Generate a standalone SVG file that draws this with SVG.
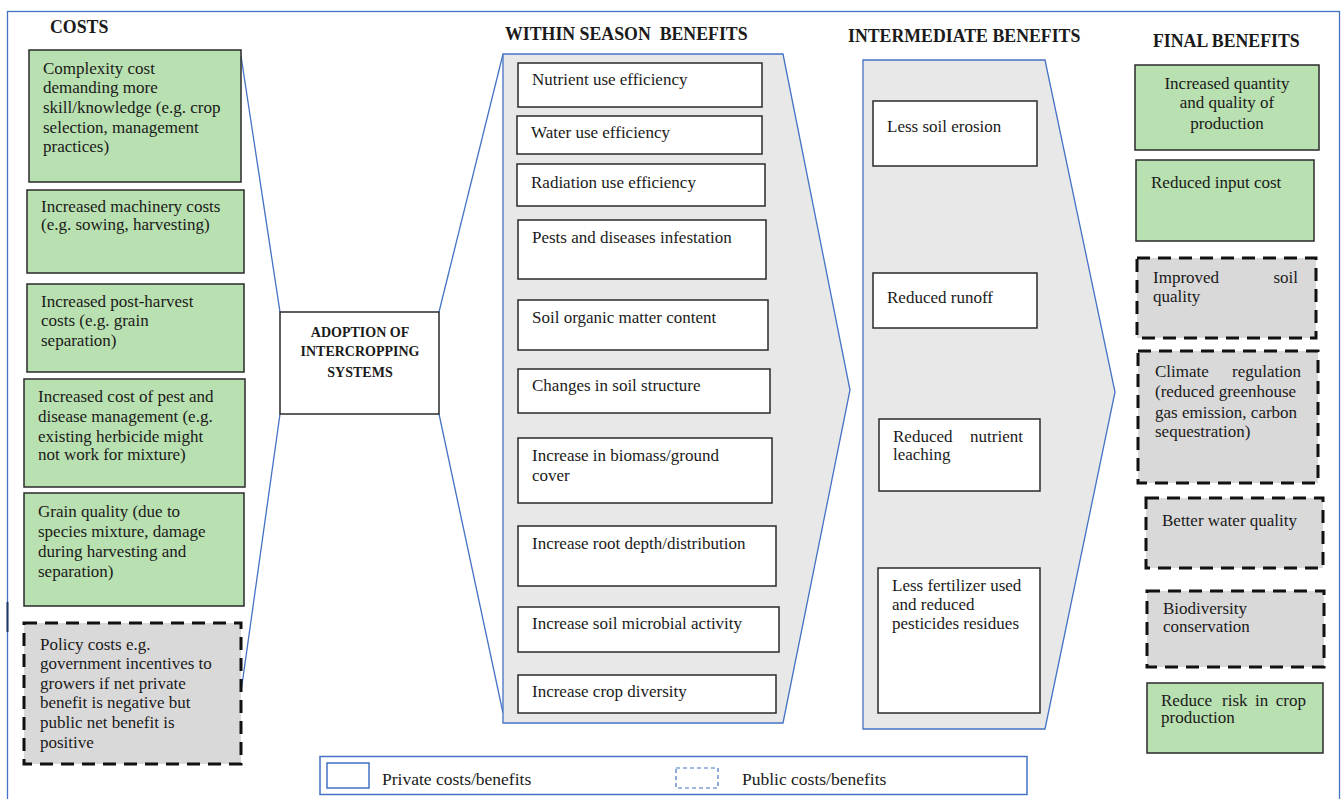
<svg xmlns="http://www.w3.org/2000/svg" width="1342" height="799" viewBox="0 0 1342 799">
<style>
text{font-family:"Liberation Serif","Times New Roman",serif;fill:#1a1a1a;font-size:17px}
.h{font-weight:bold;font-size:17.8px}
.ad{font-weight:bold;font-size:14px}
.lg{font-size:17.5px}
.g{fill:#b9e0b0;stroke:#2a2a2a;stroke-width:1.5}
.w{fill:#ffffff;stroke:#2a2a2a;stroke-width:1.5}
.d{fill:#d9d9d9;stroke:#111;stroke-width:3;stroke-dasharray:13 8}
.tz{fill:#e8e8e8;stroke:#4472c4;stroke-width:1.3}
.bl{fill:none;stroke:#4472c4;stroke-width:1.3}
</style>
<rect x="7.5" y="11.5" width="1332" height="800" fill="#fff" stroke="#4472c4" stroke-width="1.3"/>
<line x1="7.5" y1="602" x2="7.5" y2="632" stroke="#1f3864" stroke-width="2"/>

<text class="h" x="50" y="33">COSTS</text>
<text class="h" x="505" y="40" xml:space="preserve">WITHIN SEASON  BENEFITS</text>
<text class="h" x="848" y="42">INTERMEDIATE BENEFITS</text>
<text class="h" x="1153" y="47">FINAL BENEFITS</text>

<g id="connectors">
<line class="bl" x1="241" y1="56" x2="280" y2="312"/>
<line class="bl" x1="280" y1="414" x2="241" y2="692"/>
<line class="bl" x1="439" y1="312" x2="503" y2="54"/>
<line class="bl" x1="439" y1="414" x2="503" y2="713"/>
</g>

<g id="within-season-panel">
<polygon class="tz" points="503,54 783,54 850,390 783,723 503,723"/>
</g>
<g id="intermediate-panel">
<polygon class="tz" points="863,60 1045,60 1115,392 1045,729 863,729"/>
</g>

<g id="cost1"><rect class="g" x="29" y="50" width="212" height="132"/>
<text x="43" y="74">Complexity cost</text><text x="43" y="93">demanding more</text><text x="43" y="113">skill/knowledge (e.g. crop</text><text x="43" y="133">selection, management</text><text x="43" y="152">practices)</text></g>
<g id="cost2"><rect class="g" x="27" y="190" width="217" height="83"/>
<text x="41" y="212">Increased machinery costs</text><text x="41" y="230">(e.g. sowing, harvesting)</text></g>
<g id="cost3"><rect class="g" x="27" y="284" width="217" height="88"/>
<text x="41" y="307">Increased post-harvest</text><text x="41" y="326">costs (e.g. grain</text><text x="41" y="346">separation)</text></g>
<g id="cost4"><rect class="g" x="24" y="379" width="221" height="108"/>
<text x="38" y="402">Increased cost of pest and</text><text x="38" y="422">disease management (e.g.</text><text x="38" y="442">existing herbicide might</text><text x="38" y="460">not work for mixture)</text></g>
<g id="cost5"><rect class="g" x="24" y="493" width="220" height="113"/>
<text x="38" y="517">Grain quality (due to</text><text x="38" y="537">species mixture, damage</text><text x="38" y="557">during harvesting and</text><text x="38" y="577">separation)</text></g>
<g id="cost6"><rect class="d" x="24" y="623" width="217" height="141"/>
<text x="40" y="650">Policy costs e.g.</text><text x="40" y="669">government incentives to</text><text x="40" y="689">growers if net private</text><text x="40" y="708">benefit is negative but</text><text x="40" y="728">public net benefit is</text><text x="40" y="748">positive</text></g>

<g id="adoption"><rect class="w" x="280" y="312" width="159" height="102"/>
<text class="ad" x="360" y="337" text-anchor="middle">ADOPTION OF</text>
<text class="ad" x="360" y="356" text-anchor="middle">INTERCROPPING</text>
<text class="ad" x="360" y="377" text-anchor="middle">SYSTEMS</text></g>

<g id="ws1"><rect class="w" x="518" y="63" width="244" height="44"/><text x="532" y="85">Nutrient use efficiency</text></g>
<g id="ws2"><rect class="w" x="517" y="116" width="245" height="38"/><text x="531" y="138">Water use efficiency</text></g>
<g id="ws3"><rect class="w" x="517" y="164" width="248" height="42"/><text x="531" y="188">Radiation use efficiency</text></g>
<g id="ws4"><rect class="w" x="518" y="220" width="248" height="59"/><text x="532" y="243">Pests and diseases infestation</text></g>
<g id="ws5"><rect class="w" x="518" y="300" width="250" height="50"/><text x="532" y="323">Soil organic matter content</text></g>
<g id="ws6"><rect class="w" x="518" y="369" width="252" height="44"/><text x="532" y="391">Changes in soil structure</text></g>
<g id="ws7"><rect class="w" x="518" y="438" width="254" height="65"/><text x="532" y="461">Increase in biomass/ground</text><text x="532" y="481">cover</text></g>
<g id="ws8"><rect class="w" x="518" y="526" width="258" height="60"/><text x="532" y="549">Increase root depth/distribution</text></g>
<g id="ws9"><rect class="w" x="518" y="607" width="261" height="45"/><text x="532" y="629">Increase soil microbial activity</text></g>
<g id="ws10"><rect class="w" x="518" y="675" width="258" height="38"/><text x="532" y="697">Increase crop diversity</text></g>

<g id="ib1"><rect class="w" x="873" y="101" width="164" height="65"/><text x="887" y="132">Less soil erosion</text></g>
<g id="ib2"><rect class="w" x="873" y="273" width="164" height="55"/><text x="887" y="303">Reduced runoff</text></g>
<g id="ib3"><rect class="w" x="879" y="419" width="161" height="72"/><text x="893" y="442">Reduced</text><text x="1023" y="442" text-anchor="end">nutrient</text><text x="893" y="460">leaching</text></g>
<g id="ib4"><rect class="w" x="878" y="568" width="162" height="145"/><text x="892" y="591">Less fertilizer used</text><text x="892" y="610">and reduced</text><text x="892" y="629">pesticides residues</text></g>

<g id="fb1"><rect class="g" x="1135" y="65" width="184" height="85"/>
<text x="1227" y="89" text-anchor="middle">Increased quantity</text><text x="1227" y="108" text-anchor="middle">and quality of</text><text x="1227" y="129" text-anchor="middle">production</text></g>
<g id="fb2"><rect class="g" x="1136" y="160" width="178" height="81"/><text x="1151" y="188">Reduced input cost</text></g>
<g id="fb3"><rect class="d" x="1137" y="258" width="179" height="80"/><text x="1153" y="283">Improved</text><text x="1298" y="283" text-anchor="end">soil</text><text x="1153" y="302">quality</text></g>
<g id="fb4"><rect class="d" x="1138" y="351" width="180" height="132"/>
<text x="1155" y="377">Climate</text><text x="1301" y="377" text-anchor="end">regulation</text><text x="1155" y="397">(reduced greenhouse</text><text x="1155" y="418">gas emission, carbon</text><text x="1155" y="437">sequestration)</text></g>
<g id="fb5"><rect class="d" x="1146" y="498" width="177" height="70"/><text x="1162" y="526">Better water quality</text></g>
<g id="fb6"><rect class="d" x="1147" y="591" width="177" height="76"/><text x="1163" y="614">Biodiversity</text><text x="1163" y="632">conservation</text></g>
<g id="fb7"><rect class="g" x="1147" y="683" width="176" height="70"/><text x="1161" y="706">Reduce</text><text x="1222" y="706">risk</text><text x="1255" y="706">in</text><text x="1306" y="706" text-anchor="end">crop</text><text x="1161" y="723">production</text></g>

<g id="legend">
<rect x="320" y="756.5" width="707" height="38" fill="#fff" stroke="#4472c4" stroke-width="1.5"/>
<rect x="327" y="763" width="42" height="25" fill="#fff" stroke="#4472c4" stroke-width="1.5"/>
<text class="lg" x="382" y="785">Private costs/benefits</text>
<rect x="676" y="768" width="42" height="20" fill="#fff" stroke="#4472c4" stroke-width="1.2" stroke-dasharray="4 3"/>
<text class="lg" x="742" y="785">Public costs/benefits</text>
</g>
</svg>
